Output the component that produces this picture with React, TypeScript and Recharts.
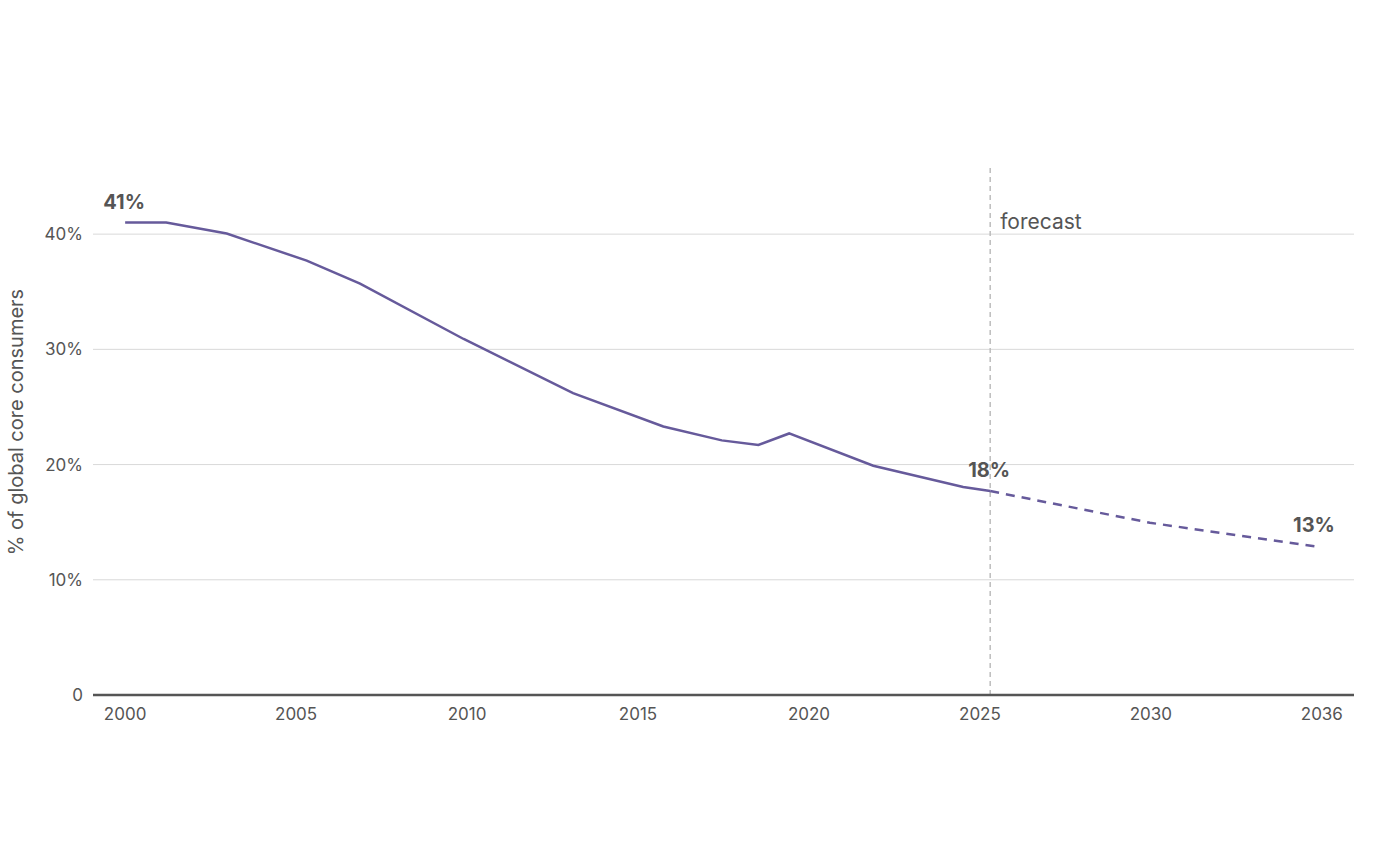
import React from "react";
import {
  LineChart,
  Line,
  XAxis,
  YAxis,
  CartesianGrid,
  ReferenceLine,
  LabelList,
} from "recharts";

// values (x in fractional years)
const actualYears = [2000, 2001.2, 2002.97, 2005.31, 2006.87, 2009.9, 2013.1, 2015.74, 2017.45, 2018.52, 2019.42, 2021.88, 2024.51, 2025.3];
const actualValues = [41.0, 41.0, 40.05, 37.7, 35.7, 30.9, 26.2, 23.3, 22.1, 21.7, 22.7, 19.9, 18.06, 17.7];

const forecastYears = [2025.3, 2029.97, 2034.8];
const forecastValues = [17.7, 14.95, 12.9];

const callouts: Record<string, string> = {
  "2000": "41%",
  "2025.3": "18%",
  "2034.8": "13%",
};

const xTicks = [2000, 2005, 2010, 2015, 2020, 2025, 2030, 2035];
const xTickLabels = ["2000", "2005", "2010", "2015", "2020", "2025", "2030", "2036"];
const yTicks = [0, 10, 20, 30, 40];

const forecastStart = 2025.3;

const purple = "#665a9b";
const grey = "#555555";
const font = "Inter, 'Noto Sans', sans-serif";

const rows: { year: number; actual?: number; forecast?: number }[] = [];
actualYears.forEach((y, i) => rows.push({ year: y, actual: actualValues[i] }));
forecastYears.forEach((y, i) => {
  const hit = rows.find((r) => r.year === y);
  if (hit) hit.forecast = forecastValues[i];
  else rows.push({ year: y, forecast: forecastValues[i] });
});

const Callout = (props: any) => {
  const { x, y, index, series, value } = props;
  if (value == null || y == null || isNaN(y)) return null;
  const row = rows[index];
  if (!row) return null;
  const text = callouts[String(row.year)];
  if (!text) return null;
  // the junction point belongs to the actual series only
  if (series === "forecast" && row.actual !== undefined) return null;
  return (
    <text x={x - 1} y={y - 14} textAnchor="middle" fill={grey} fontSize={20} fontWeight={700} fontFamily={font}>
      {text}
    </text>
  );
};

const YTitle = () => (
  <text
    x={16}
    y={422}
    transform="rotate(-90 16 422)"
    textAnchor="middle"
    dominantBaseline="central"
    fill={grey}
    fontSize={20}
    fontFamily={font}
  >
    % of global core consumers
  </text>
);

export default function App() {
  return (
    <div style={{ width: 1378, height: 858 }}>
      <style>{`body{margin:0}`}</style>
      <LineChart width={1378} height={858} data={rows} margin={{ top: 165, right: 24, bottom: 133, left: 0 }}>
        <CartesianGrid vertical={false} stroke="#d9d9d9" horizontalValues={[10, 20, 30, 40]} />
        <XAxis
          dataKey="year"
          type="number"
          domain={[1999.06, 2035.94]}
          ticks={xTicks}
          height={30}
          tickFormatter={(v: number) => xTickLabels[xTicks.indexOf(v)] ?? String(v)}
          axisLine={{ stroke: grey, strokeWidth: 2.5 }}
          tickLine={false}
          tickMargin={7}
          tick={{ fill: grey, fontSize: 17, fontFamily: font }}
        />
        <YAxis
          type="number"
          domain={[0, 46]}
          ticks={yTicks}
          width={93}
          axisLine={false}
          tickLine={false}
          tickMargin={4}
          tickFormatter={(v: number) => (v === 0 ? "0" : `${v}%`)}
          tick={{ fill: grey, fontSize: 17, fontFamily: font }}
          label={{ content: () => <YTitle /> }}
        />
        <ReferenceLine
          x={forecastStart}
          stroke="#bdbdbd"
          strokeWidth={1.5}
          strokeDasharray="5 4"
          label={{
            content: (p: any) => (
              <text x={p.viewBox.x + 10} y={229} fill={grey} fontSize={21} fontFamily={font}>
                forecast
              </text>
            ),
          }}
        />
        <Line
          type="linear"
          dataKey="actual"
          stroke={purple}
          strokeWidth={2.5}
          dot={false}
          activeDot={false}
          isAnimationActive={false}
        >
          <LabelList dataKey="actual" content={(p: any) => <Callout {...p} series="actual" />} />
        </Line>
        <Line
          type="linear"
          dataKey="forecast"
          stroke={purple}
          strokeWidth={2.5}
          strokeDasharray="9 7"
          dot={false}
          activeDot={false}
          isAnimationActive={false}
        >
          <LabelList dataKey="forecast" content={(p: any) => <Callout {...p} series="forecast" />} />
        </Line>
      </LineChart>
    </div>
  );
}
